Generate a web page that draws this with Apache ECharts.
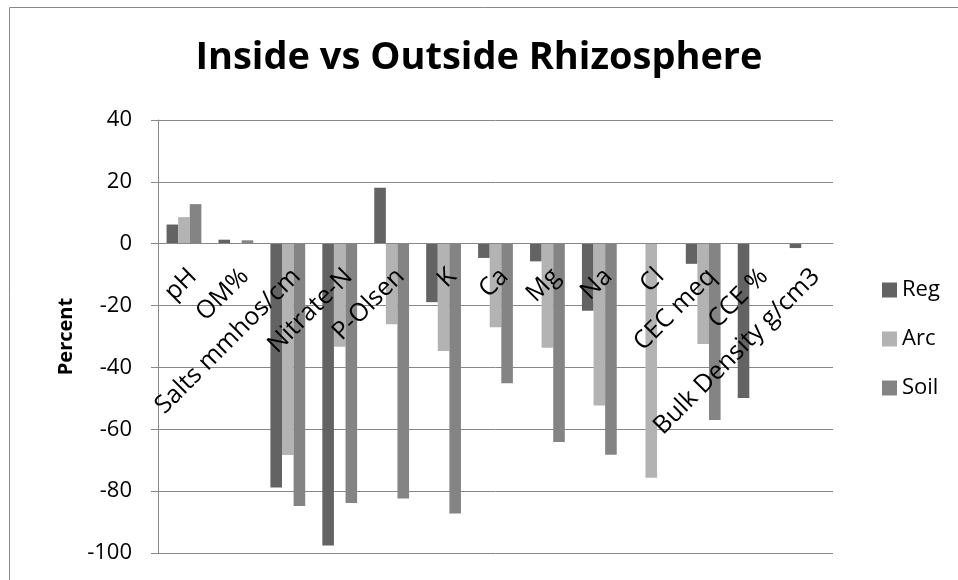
<!DOCTYPE html>
<html>
<head>
<meta charset="utf-8">
<script src="https://cdn.jsdelivr.net/npm/echarts@6/dist/echarts.min.js"></script>
<style>
  html, body { margin: 0; padding: 0; background: #fff; }
  #chart { width: 958px; height: 580px; }
</style>
</head>
<body>
<div id="chart"></div>
<script>
// 类别（横轴）
var categories = ['pH', 'OM%', 'Salts mmhos/cm', 'Nitrate-N', 'P-Olsen', 'K', 'Ca', 'Mg', 'Na', 'Cl', 'CEC meq', 'CCE %', 'Bulk Density g/cm3']
// 三个系列的数值（从图上读出来的估计值）
var regData = [6.2, 1.3, -78.8, -97.6, 18.1, -18.9, -4.6, -5.7, -21.7, 0, -6.5, -49.9, -1.4]
var arcData = [8.6, 0, -68.3, -33.3, -26, -34.7, -27, -33.6, -52.3, -75.7, -32.4, 0, 0]
var soilData = [12.8, 1.1, -84.8, -83.8, -82.4, -87.2, -45.1, -64.1, -68.2, 0, -57, 0, 0]
var seriesNames = ['Reg', 'Arc', 'Soil']
var seriesColors = ['#636363', '#b3b3b3', '#848484']
var yMin = -100
var yMax = 40

var font = '"Open Sans", "Noto Sans", sans-serif'
var gridHeight = 433
var myChart = echarts.init(document.getElementById('chart'))

var allData = [regData, arcData, soilData]
var series = []
for (var i = 0; i < allData.length; i++) {
  series.push({
    name: seriesNames[i],
    type: 'bar',
    data: allData[i],
    barGap: '0%',
    barCategoryGap: '33%',
    itemStyle: { color: seriesColors[i] }
  })
}

// 类目轴放到 0 刻度线上（onZero 不会带着标签一起移动，所以用 offset）
var zeroOffset = -gridHeight * (0 - yMin) / (yMax - yMin)

var option = {
  animation: false,
  backgroundColor: '#fff',
  title: {
    text: 'Inside vs Outside Rhizosphere',
    left: 'center',
    top: 34,
    textStyle: { fontFamily: font, fontWeight: 'bold', fontSize: 38, color: '#000' }
  },
  legend: {
    orient: 'vertical',
    left: 877,
    top: 274,
    itemWidth: 15,
    itemHeight: 15,
    itemGap: 27,
    icon: 'rect',
    textStyle: { fontFamily: font, fontSize: 22, color: '#000' },
    data: seriesNames
  },
  // 不让 v6 自动收缩网格，保持和原图一样的绘图区
  grid: { left: 158, top: 120, width: 675, height: gridHeight, outerBoundsMode: 'none', containLabel: false },
  xAxis: {
    type: 'category',
    data: categories,
    offset: zeroOffset,
    z: 5, // 标签要压在柱子上面
    axisLine: { onZero: false, lineStyle: { color: '#888', width: 1 } },
    axisTick: { show: false },
    axisLabel: {
      rotate: 45,
      interval: 0,
      margin: 20,
      align: 'right',
      verticalAlign: 'top',
      fontFamily: font,
      fontSize: 25,
      color: '#000'
    }
  },
  yAxis: {
    type: 'value',
    min: yMin,
    max: yMax,
    interval: 20,
    name: 'Percent',
    nameLocation: 'middle',
    nameGap: 52,
    nameTextStyle: { fontFamily: font, fontWeight: 'bold', fontSize: 20, color: '#000' },
    axisLine: { show: true, onZero: false, lineStyle: { color: '#888', width: 1 } },
    axisTick: { show: true, length: 7, lineStyle: { color: '#888' } },
    axisLabel: { margin: 26, fontFamily: font, fontSize: 22, color: '#000' },
    splitLine: { lineStyle: { color: '#888', width: 1 } }
  },
  graphic: [{
    type: 'rect',
    shape: { x: 9.5, y: 7.5, width: 1000, height: 1000 },
    style: { fill: 'none', stroke: '#888', lineWidth: 1 },
    silent: true
  }],
  series: series
}
myChart.setOption(option, true)
</script>
</body>
</html>
